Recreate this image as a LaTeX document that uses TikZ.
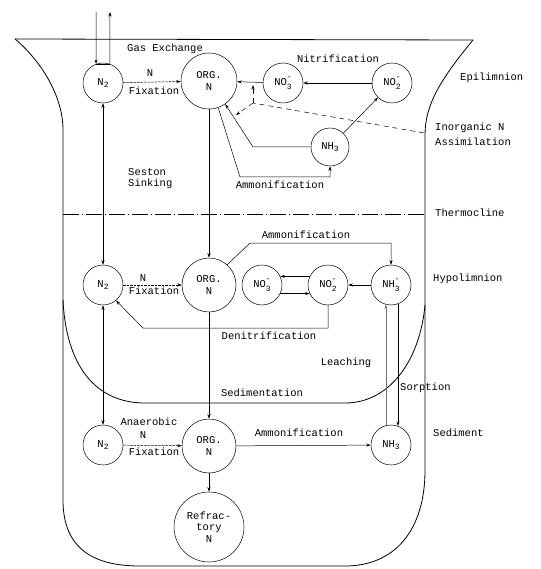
\documentclass[tikz,border=0pt]{standalone}
\usepackage{fontspec}
\setmainfont{Liberation Mono}
\usetikzlibrary{arrows.meta}
\newcommand\chsub[1]{\raisebox{-0.5ex}{\footnotesize #1}}
\newcommand\chion[2]{\rlap{\raisebox{1.15ex}{\footnotesize #2}}\raisebox{-0.6ex}{\footnotesize #1}}
\begin{document}
\begin{tikzpicture}[x=1pt,y=-1pt,
  font=\fontsize{10.5}{11.5}\selectfont,
  pool/.style={draw, circle, inner sep=0pt, line width=0.5pt, align=center},
  flow/.style={line width=0.5pt, -{Stealth[length=4.5pt,width=3pt]}},
  dflow/.style={line width=0.5pt, {Stealth[length=4.5pt,width=3pt]}-{Stealth[length=4.5pt,width=3pt]}},
  plain/.style={line width=0.5pt},
  fixline/.style={dash pattern=on 2.5pt off 1pt},
  assim/.style={line width=0.5pt, dash pattern=on 5pt off 4pt},
  leach/.style={draw=black!55},
  lake/.style={line width=0.8pt},
  thermo/.style={line width=0.6pt, dash pattern=on 16pt off 3pt on 1pt off 3pt},
  lbl/.style={inner sep=0pt}]
\useasboundingbox (0,0) rectangle (540,569);

% lake outline
\draw[lake] (15,39) -- (473,40);
\draw[lake] (15,39) .. controls (40,60) and (63,95) .. (63,130) -- (63,500)
  .. controls (63,550) and (95,566) .. (140,566) -- (345,566)
  .. controls (395,566) and (425,530) .. (425,470) -- (425,135)
  .. controls (425,105) and (440,80) .. (473,40);
\draw[lake] (63,300) .. controls (66,365) and (95,403) .. (145,403) -- (345,403)
  .. controls (390,403) and (420,360) .. (425,305);
\draw[thermo] (63,214) -- (425,214);

% pools
\node[pool, minimum size=40pt] (n2e) at (103,83) {N\chsub{2}};
\node[pool, minimum size=56pt] (orge) at (209,81) {ORG.\\N};
\node[pool, minimum size=40pt] (no3e) at (283,83) {NO\chion{3}{-}};
\node[pool, minimum size=40pt] (no2e) at (392,83) {NO\chion{2}{-}};
\node[pool, minimum size=38pt] (nh3e) at (330,147) {NH\chsub{3}};

\node[pool, minimum size=40pt] (n2h) at (103,285) {N\chsub{2}};
\node[pool, minimum size=54pt] (orgh) at (209,285) {ORG.\\N};
\node[pool, minimum size=40pt] (no3h) at (262,285) {NO\chion{3}{-}};
\node[pool, minimum size=40pt] (no2h) at (328,285) {NO\chion{2}{-}};
\node[pool, minimum size=40pt] (nh3h) at (391,285) {NH\chion{3}{-}};

\node[pool, minimum size=40pt] (n2s) at (103,445) {N\chsub{2}};
\node[pool, minimum size=54pt] (orgs) at (209,446) {ORG.\\N};
\node[pool, minimum size=40pt] (nh3s) at (391,445) {NH\chsub{3}};
\node[pool, minimum size=70pt] (refr) at (209,527) {Refrac-\\tory\\N};

% gas exchange
\coordinate (gin) at (96,12);
\coordinate (gout) at (110,12);
\draw[flow] (gin) -- (n2e.110);
\draw[flow] (n2e.70) -- (gout);
\draw[plain] (n2e.110) -- (n2e.70);

% epilimnion
\draw[flow,fixline] (n2e) -- (orge);
\draw[flow] (no3e) -- (orge);
\draw[flow] (no2e) -- (no3e);
\draw[flow] (nh3e) -- (no2e);
\draw[flow] (orge.-71) -- (240,177) -| (nh3e.south);
\draw[flow] (nh3e.west) -- (253,147) -- (orge.-55);
\coordinate (asR) at (424,133);
\coordinate (asJ) at (253,103);
\coordinate (asT1) at (253,85);
\coordinate (asT2) at (236,115);
\draw[assim] (asR) -- (asJ);
\draw[assim,flow] (asJ) -- (asT1);
\draw[assim,flow] (asJ) -- (asT2);

% vertical links
\draw[flow] (orge) -- (orgh);
\draw[flow] (orgh) -- (orgs);
\draw[flow] (orgs) -- (refr);
\draw[dflow] (n2e) -- (n2h);
\draw[dflow] (n2h) -- (n2s);

% hypolimnion
\draw[flow,fixline] (n2h) -- (orgh);
\draw[flow] (orgh.48) -- (250,243) -| (nh3h.north);
\draw[flow] (nh3h) -- (no2h);
\draw[flow] (no2h.155) -- (no3h.25);
\draw[flow] (no3h.-25) -- (no2h.205);
\draw[flow] (no2h.south) -- (328,328) -- (143,328) -- (n2h.-50);

% sediment exchange
\draw[flow,leach] (nh3s.105) -- (nh3h.255);
\draw[flow] (nh3h.290) -- (nh3s.70);

% sediment
\draw[flow,fixline] (n2s) -- (orgs);
\draw[flow] (orgs) -- (nh3s);

% labels
\node[lbl, anchor=west] (tGas) at (127,49) {Gas Exchange};
\node[lbl] (tNe) at (150,73) {N};
\node[lbl] (tFixe) at (154,91) {Fixation};
\node[lbl] (tNit) at (338,59) {Nitrification};
\node[lbl, anchor=west] (tEpi) at (460,78) {Epilimnion};
\node[lbl, anchor=west] (tIno) at (435,128) {Inorganic N};
\node[lbl, anchor=west] (tAss) at (435,142) {Assimilation};
\node[lbl, anchor=west] (tSes) at (128,172) {Seston};
\node[lbl, anchor=west] (tSin) at (128,184) {Sinking};
\node[lbl] (tAme) at (280,185) {Ammonification};
\node[lbl, anchor=west] (tThe) at (435,213) {Thermocline};
\node[lbl] (tAmh) at (306,235) {Ammonification};
\node[lbl] (tNh) at (143,278) {N};
\node[lbl] (tFixh) at (154,291) {Fixation};
\node[lbl, anchor=west] (tHyp) at (433,279) {Hypolimnion};
\node[lbl] (tDen) at (269,336) {Denitrification};
\node[lbl] (tLea) at (346,363) {Leaching};
\node[lbl, anchor=west] (tSor) at (400,388) {Sorption};
\node[lbl] (tSed) at (262,393) {Sedimentation};
\node[lbl] (tAna) at (149,422) {Anaerobic};
\node[lbl] (tNs) at (143,435) {N};
\node[lbl] (tFixs) at (154,452) {Fixation};
\node[lbl] (tAms) at (299,433) {Ammonification};
\node[lbl, anchor=west] (tSedi) at (433,433) {Sediment};
\end{tikzpicture}
\end{document}
